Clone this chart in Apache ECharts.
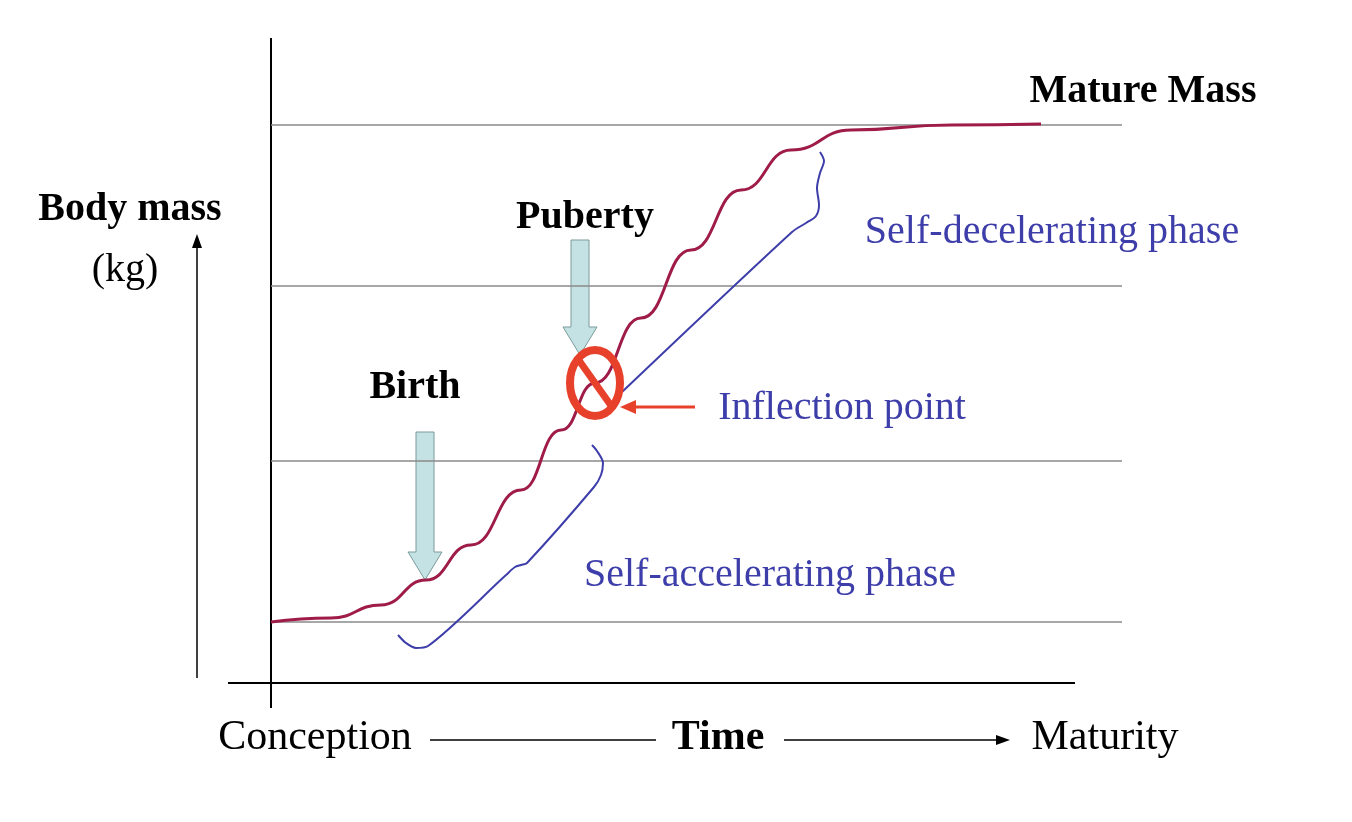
<!DOCTYPE html>
<html><head><meta charset="utf-8">
<script src="https://cdn.jsdelivr.net/npm/echarts@6/dist/echarts.min.js"></script>
<style>html,body{margin:0;background:#fff}#c{width:1352px;height:822px}</style>
</head><body><div id="c"></div>
<script>
// coordinates in screen-like units: x = px from y axis, y = px above x axis
var growthX = [0, 60, 110, 155, 200, 250, 290, 324, 370, 420, 470, 520, 580, 680, 770];
var growthY = [61, 65, 78, 103, 138, 193, 253, 300, 365, 433, 493, 533, 553, 558, 559];
var levels = [61, 222, 397, 558];
var accelX = [127, 135, 145, 157, 235, 244, 250, 256, 323, 330, 332, 326, 321];
var accelY = [48, 40, 35, 37, 108, 116, 118, 120, 196, 208, 220, 232, 238];
var decelX = [351, 521, 535, 545, 548, 546, 549, 553, 549];
var decelY = [291, 451, 460, 467, 478, 495, 510, 522, 531];

var serif = 'Liberation Serif';
var blue = '#3e3eaa';
var chart = echarts.init(document.getElementById('c'));
function pairs(xs, ys) { return xs.map(function (x, i) { return [x, ys[i]]; }); }

var series = levels.map(function (l) {
    return { type: 'line', data: [[0, l], [851, l]], symbol: 'none', silent: true,
        lineStyle: { color: '#8a8a8a', width: 1.5 } };
});
series.push({ type: 'line', data: pairs(accelX, accelY), symbol: 'none', smooth: 0.3, lineStyle: { color: blue, width: 2 } });
series.push({ type: 'line', data: pairs(decelX, decelY), symbol: 'none', smooth: 0.3, lineStyle: { color: blue, width: 2 } });
series.push({ type: 'line', data: pairs(growthX, growthY), symbol: 'none', smooth: true, smoothMonotone: 'x',
    lineStyle: { color: '#a01c48', width: 3 } });

chart.setOption({
    animation: false,
    grid: { left: 271, top: 38, width: 851, height: 645 },
    xAxis: { type: 'value', min: 0, max: 851, show: false },
    yAxis: { type: 'value', min: 0, max: 645, show: false },
    series: series
});

function P(x, y) { return chart.convertToPixel({ gridIndex: 0 }, [x, y]); }
function text(x, y, s, size, color, bold) {
    return { type: 'text', x: x, y: y, style: { text: s, font: (bold ? 'bold ' : '') + size + 'px "' + serif + '"',
        fill: color || '#000', align: 'center', verticalAlign: 'middle' } };
}
function downArrow(cx, top, bot) {
    return { type: 'polygon', shape: { points: [[cx - 9, top], [cx + 9, top], [cx + 9, bot - 28], [cx + 17, bot - 28],
        [cx, bot], [cx - 17, bot - 28], [cx - 9, bot - 28]] }, style: { fill: '#c4e2e3', stroke: '#7a9a9a', lineWidth: 1 } };
}
var infl = P(growthX[7], growthY[7]);
chart.setOption({ graphic: [
    { type: 'line', shape: { x1: 271, y1: 38, x2: 271, y2: 708 }, style: { stroke: '#000', lineWidth: 2 } },
    { type: 'line', shape: { x1: 228, y1: 683, x2: 1075, y2: 683 }, style: { stroke: '#000', lineWidth: 2 } },
    { type: 'line', shape: { x1: 197, y1: 678, x2: 197, y2: 240 }, style: { stroke: '#000', lineWidth: 1.5 } },
    { type: 'polygon', shape: { points: [[192, 248], [197, 234], [202, 248]] }, style: { fill: '#000' } },
    downArrow(425, 432, 580),
    downArrow(580, 240, 355),
    { type: 'ellipse', shape: { cx: infl[0], cy: infl[1], rx: 25, ry: 33 },
        style: { fill: 'none', stroke: '#e8412b', lineWidth: 8 }, z: 10 },
    { type: 'line', shape: { x1: infl[0] - 17, y1: infl[1] - 24, x2: infl[0] + 17, y2: infl[1] + 24 },
        style: { stroke: '#e8412b', lineWidth: 7 }, z: 10 },
    { type: 'line', shape: { x1: 695, y1: 407, x2: 632, y2: 407 }, style: { stroke: '#e8412b', lineWidth: 3 } },
    { type: 'polygon', shape: { points: [[620, 407], [636, 400], [636, 414]] }, style: { fill: '#e8412b' } },
    text(130, 210, 'Body mass', 40, '#000', true),
    text(125, 270, '(kg)', 40),
    text(1143, 92, 'Mature Mass', 40, '#000', true),
    text(585, 218, 'Puberty', 40, '#000', true),
    text(415, 388, 'Birth', 40, '#000', true),
    text(1052, 232, 'Self-decelerating phase', 40, blue),
    text(842, 408, 'Inflection point', 40, blue),
    text(770, 575, 'Self-accelerating phase', 40, blue),
    text(315, 738, 'Conception', 42),
    text(718, 738, 'Time', 42, '#000', true),
    text(1105, 738, 'Maturity', 42),
    { type: 'line', shape: { x1: 430, y1: 740, x2: 656, y2: 740 }, style: { stroke: '#000', lineWidth: 1.5 } },
    { type: 'line', shape: { x1: 784, y1: 740, x2: 1000, y2: 740 }, style: { stroke: '#000', lineWidth: 1.5 } },
    { type: 'polygon', shape: { points: [[996, 735], [1010, 740], [996, 745]] }, style: { fill: '#000' } }
] });
</script></body></html>
